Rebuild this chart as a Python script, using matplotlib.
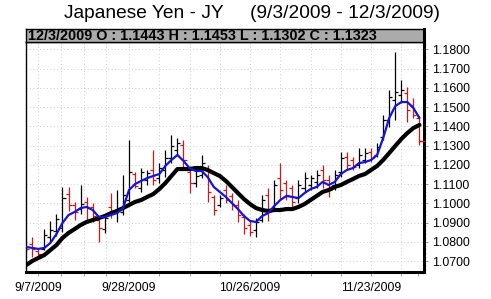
import matplotlib
matplotlib.use("Agg")
import matplotlib.pyplot as plt
import numpy as np

plt.rcParams['font.family'] = ['Liberation Sans', 'DejaVu Sans']

title = "Japanese Yen - JY     (9/3/2009 - 12/3/2009)"

dates = ["9/3", "9/4", "9/7", "9/8", "9/9", "9/10", "9/11", "9/14", "9/15", "9/16",
         "9/17", "9/18", "9/21", "9/22", "9/23", "9/24", "9/25", "9/28", "9/29", "9/30",
         "10/1", "10/2", "10/5", "10/6", "10/7", "10/8", "10/9", "10/12", "10/13", "10/14",
         "10/15", "10/16", "10/19", "10/20", "10/21", "10/22", "10/23", "10/26", "10/27", "10/28",
         "10/29", "10/30", "11/2", "11/3", "11/4", "11/5", "11/6", "11/9", "11/10", "11/11",
         "11/12", "11/13", "11/16", "11/17", "11/18", "11/19", "11/20", "11/23", "11/24", "11/25",
         "11/26", "11/27", "11/30", "12/1", "12/2", "12/3"]

opens = [1.0790, 1.0788, 1.0753, 1.0763, 1.0825, 1.0856, 1.0872, 1.1048, 1.0991, 1.0970,
         1.1007, 1.0981, 1.0913, 1.0866, 1.0981, 1.0955, 1.0955, 1.1017, 1.1152, 1.1079,
         1.1121, 1.1173, 1.1131, 1.1173, 1.1235, 1.1277, 1.1303, 1.1163, 1.1105, 1.1147,
         1.1183, 1.1033, 1.0991, 1.1069, 1.1038, 1.0991, 1.0929, 1.0887, 1.0861, 1.0913,
         1.1043, 1.0975, 1.1131, 1.1105, 1.1079, 1.1027, 1.1079, 1.1095, 1.1111, 1.1173,
         1.1121, 1.1095, 1.1163, 1.1241, 1.1225, 1.1199, 1.1225, 1.1267, 1.1251, 1.1344,
         1.1433, 1.1537, 1.1563, 1.1573, 1.1511, 1.1443]
highs = [1.0805, 1.0826, 1.0768, 1.0866, 1.0908, 1.0944, 1.1085, 1.1085, 1.1007, 1.1095,
         1.1033, 1.1001, 1.0929, 1.0939, 1.1053, 1.1069, 1.1147, 1.1329, 1.1163, 1.1183,
         1.1173, 1.1277, 1.1209, 1.1277, 1.1355, 1.1339, 1.1329, 1.1183, 1.1173, 1.1251,
         1.1199, 1.1043, 1.1043, 1.1095, 1.1053, 1.1017, 1.0944, 1.0908, 1.0924, 1.1043,
         1.1079, 1.1121, 1.1209, 1.1121, 1.1095, 1.1121, 1.1163, 1.1147, 1.1173, 1.1199,
         1.1147, 1.1173, 1.1267, 1.1267, 1.1241, 1.1287, 1.1287, 1.1287, 1.1313, 1.1459,
         1.1588, 1.1786, 1.1640, 1.1604, 1.1547, 1.1453]
lows = [1.0745, 1.0723, 1.0711, 1.0757, 1.0794, 1.0830, 1.0851, 1.0960, 1.0913, 1.0944,
        1.0913, 1.0903, 1.0799, 1.0846, 1.0923, 1.0903, 1.0939, 1.1007, 1.1079, 1.1059,
        1.1095, 1.1095, 1.1105, 1.1137, 1.1209, 1.1251, 1.1183, 1.1053, 1.1085, 1.1131,
        1.1007, 1.0939, 1.0981, 1.1001, 1.0965, 1.0903, 1.0840, 1.0830, 1.0825, 1.0903,
        1.0908, 1.0965, 1.1017, 1.1017, 1.0965, 1.1001, 1.1059, 1.1069, 1.1079, 1.1079,
        1.1033, 1.1069, 1.1137, 1.1173, 1.1173, 1.1183, 1.1209, 1.1214, 1.1241, 1.1329,
        1.1396, 1.1433, 1.1521, 1.1422, 1.1443, 1.1302]
closes = [1.0765, 1.0763, 1.0737, 1.0835, 1.0861, 1.0918, 1.1027, 1.0991, 1.0955, 1.0996,
          1.0975, 1.0934, 1.0872, 1.0923, 1.0949, 1.0975, 1.1043, 1.1162, 1.1090, 1.1162,
          1.1157, 1.1121, 1.1183, 1.1235, 1.1298, 1.1313, 1.1225, 1.1105, 1.1142, 1.1209,
          1.1059, 1.0965, 1.1027, 1.1017, 1.0991, 1.0939, 1.0872, 1.0851, 1.0903, 1.1017,
          1.0955, 1.1095, 1.1069, 1.1043, 1.1007, 1.1095, 1.1131, 1.1131, 1.1147, 1.1121,
          1.1069, 1.1147, 1.1235, 1.1199, 1.1189, 1.1251, 1.1261, 1.1235, 1.1292, 1.1433,
          1.1552, 1.1578, 1.1588, 1.1485, 1.1459, 1.1323]

ma_fast = [1.0773, 1.0768, 1.0763, 1.0768, 1.0794, 1.0840, 1.0898, 1.0939, 1.0955, 1.0975,
           1.0981, 1.0965, 1.0929, 1.0929, 1.0939, 1.0949, 1.0975, 1.1069, 1.1100, 1.1116,
           1.1131, 1.1142, 1.1152, 1.1194, 1.1225, 1.1251, 1.1220, 1.1183, 1.1168, 1.1168,
           1.1136, 1.1085, 1.1059, 1.1033, 1.1001, 1.0970, 1.0934, 1.0908, 1.0903, 1.0934,
           1.0949, 1.0986, 1.1017, 1.1038, 1.1033, 1.1027, 1.1053, 1.1074, 1.1085, 1.1111,
           1.1095, 1.1111, 1.1152, 1.1173, 1.1183, 1.1209, 1.1214, 1.1225, 1.1251, 1.1339,
           1.1443, 1.1505, 1.1526, 1.1526, 1.1495, 1.1443]
ma_slow = [1.0679, 1.0700, 1.0716, 1.0731, 1.0757, 1.0783, 1.0820, 1.0846, 1.0866, 1.0887,
           1.0903, 1.0913, 1.0923, 1.0934, 1.0949, 1.0960, 1.0975, 1.0991, 1.1007, 1.1017,
           1.1033, 1.1048, 1.1074, 1.1105, 1.1142, 1.1178, 1.1178, 1.1178, 1.1183, 1.1183,
           1.1173, 1.1157, 1.1142, 1.1116, 1.1085, 1.1053, 1.1022, 1.0996, 1.0975, 1.0965,
           1.0960, 1.0965, 1.0965, 1.0970, 1.0970, 1.0981, 1.0996, 1.1017, 1.1038, 1.1059,
           1.1069, 1.1085, 1.1095, 1.1111, 1.1126, 1.1142, 1.1152, 1.1173, 1.1194, 1.1225,
           1.1261, 1.1298, 1.1334, 1.1365, 1.1391, 1.1407]

label_dates = ["9/7", "9/28", "10/26", "11/23"]
year = "2009"
y_ticks = [1.07, 1.08, 1.09, 1.10, 1.11, 1.12, 1.13, 1.14, 1.15, 1.16, 1.17, 1.18]

W, H = 491, 299
fig = plt.figure(figsize=(W / 100, H / 100), dpi=100)
fig.patch.set_facecolor('white')

L, R, T, B, HT = 26, 424, 42, 272, 29
ax = fig.add_axes([L / W, 1 - B / H, (R - L) / W, (B - T) / H])
ax.set_facecolor('white')

x = np.arange(len(dates))
ax.set_xlim(-0.03, 65.75)
ax.set_ylim(1.0643, 1.1838)

# grid
grid_x = [2, 5.75, 9.5, 13.25, 17, 22, 27, 32, 37, 42, 47, 52, 57, 62]
for gx in grid_x:
    ax.axvline(gx, color='#cfcfcf', lw=0.7, ls=(0, (1, 2.5)), zorder=0)
for gy in y_ticks:
    ax.axhline(gy, color='#cfcfcf', lw=0.7, ls=(0, (1, 2.5)), zorder=0)

# OHLC bars
tw = 0.5
for xi, o, h, l, c in zip(x, opens, highs, lows, closes):
    col = 'black' if c >= o else '#d01818'
    ax.plot([xi, xi], [l, h], color=col, lw=0.9, solid_capstyle='butt', zorder=2)
    ax.plot([xi - tw, xi], [o, o], color=col, lw=0.9, solid_capstyle='butt', zorder=2)
    ax.plot([xi, xi + tw], [c, c], color=col, lw=0.9, solid_capstyle='butt', zorder=2)

ax.plot(x, ma_slow, color='black', lw=3.0, zorder=3, solid_capstyle='round')
ax.plot(x, ma_fast, color='#1414d8', lw=1.6, zorder=4, solid_capstyle='round')

# last close marker on right edge
ax.plot([0.988, 1.0], [closes[-1], closes[-1]], color='#d01818', lw=1.0,
        transform=ax.get_yaxis_transform(), clip_on=False, zorder=5)

# axes styling
ax.yaxis.tick_right()
ax.set_yticks(y_ticks)
ax.set_yticklabels([f"{v:.4f}" for v in y_ticks], fontsize=8.9)
ax.set_yticks(np.arange(1.066, 1.184, 0.002), minor=True)
ax.tick_params(axis='y', which='major', length=3, width=0.6, color='#888888', pad=3)
ax.tick_params(axis='y', which='minor', length=1.5, width=0.5, color='#aaaaaa')

xt_major = [dates.index(d) for d in label_dates]
ax.set_xticks(xt_major)
ax.set_xticklabels([f"{d}/{year}" for d in label_dates], fontsize=8.8)
ax.set_xticks([gx for gx in grid_x if gx not in xt_major] + [64.8], minor=True)
ax.tick_params(axis='x', which='both', length=3, width=0.6, color='#888888', pad=4)

for s in ['left', 'top']:
    ax.spines[s].set_linewidth(1.0)
ax.spines['right'].set_linewidth(2.2)
ax.spines['bottom'].set_linewidth(2.2)
for s in ax.spines.values():
    s.set_color('black')

# header bar
hax = fig.add_axes([L / W, 1 - T / H, (R - L) / W, (T - HT) / H])
hax.set_facecolor('#ababab')
hax.set_xticks([])
hax.set_yticks([])
for s in hax.spines.values():
    s.set_color('black')
    s.set_linewidth(1.0)
hax.spines['right'].set_linewidth(2.2)
header = (f"{dates[-1]}/{year} O : {opens[-1]:.4f} H : {highs[-1]:.4f} "
          f"L : {lows[-1]:.4f} C : {closes[-1]:.4f}")
hax.text(0.006, 0.45, header, transform=hax.transAxes, fontsize=10.4,
         fontweight='bold', va='center', ha='left', color='black')

fig.text(252 / W, 1 - 13 / H, title, ha='center', va='center', fontsize=13.8,
         color='black')

fig.savefig('out.png', dpi=100, facecolor='white')
